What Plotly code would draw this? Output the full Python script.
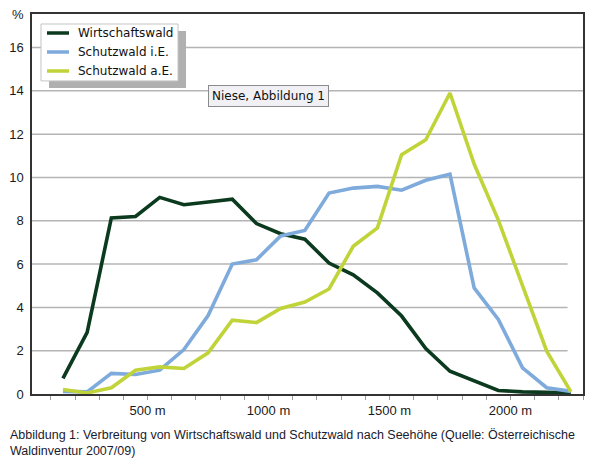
import plotly.graph_objects as go

# ---- data ----
altitude_m = [150, 250, 350, 450, 550, 650, 750, 850, 950, 1050, 1150,
              1250, 1350, 1450, 1550, 1650, 1750, 1850, 1950, 2050, 2150, 2250]
wirtschaftswald = [0.72, 2.85, 8.13, 8.2, 9.08, 8.74, 8.87, 9.0, 7.87, 7.4, 7.15,
                   6.05, 5.5, 4.67, 3.6, 2.1, 1.05, 0.59, 0.16, 0.1, 0.08, 0.05]
schutzwald_ie = [0.12, 0.1, 0.95, 0.9, 1.1, 2.05, 3.62, 6.0, 6.2, 7.3, 7.55,
                 9.28, 9.51, 9.59, 9.41, 9.87, 10.15, 4.9, 3.44, 1.21, 0.29, 0.12]
schutzwald_ae = [0.21, 0.05, 0.29, 1.1, 1.25, 1.18, 1.9, 3.41, 3.3, 3.95, 4.25,
                 4.85, 6.82, 7.67, 11.05, 11.74, 13.9, 10.62, 8.03, 5.0, 1.98, 0.1]
series_names = ["Wirtschaftswald", "Schutzwald i.E.", "Schutzwald a.E."]
series_colors = ["#0b3a1e", "#7eaadc", "#c0d43a"]

x_ticks = list(range(100, 2301, 100))
x_labels = {500: "500 m", 1000: "1000 m", 1500: "1500 m", 2000: "2000 m"}
y_ticks = [0, 2, 4, 6, 8, 10, 12, 14, 16]
y_top = 17.55
caption = ("Abbildung 1: Verbreitung von Wirtschaftswald und Schutzwald nach Seehöhe "
           "(Quelle: Österreichische<br>Waldinventur 2007/09)")

fig = go.Figure()
for name, vals, col in zip(series_names,
                           [wirtschaftswald, schutzwald_ie, schutzwald_ae],
                           series_colors):
    fig.add_trace(go.Scatter(x=altitude_m, y=vals, name=name, mode="lines",
                             line=dict(color=col, width=3.6), showlegend=False))

shapes = []
annotations = []
# gridlines (the lower ones stop short of the right frame, as in the original)
for v in y_ticks[1:]:
    shapes.append(dict(type="line", xref="paper", yref="y", x0=0,
                       x1=1 if v >= 8 else 0.972, y0=v, y1=v,
                       line=dict(color="#b4b4b4", width=1.5), layer="below"))

# legend box with drop shadow (drawn as a small framed key)
shapes.append(dict(type="rect", xref="paper", yref="paper", x0=0.0309, x1=0.2795,
                   y0=0.8055, y1=0.9553, fillcolor="#b0b0b0", line=dict(width=0),
                   layer="above"))
shapes.append(dict(type="rect", xref="paper", yref="paper", x0=0.0163, x1=0.265,
                   y0=0.8239, y1=0.9737, fillcolor="white",
                   line=dict(color="#c4c4c4", width=1), layer="above"))
key_rows = [0.950, 0.900, 0.850]
for name, col, ky in zip(series_names, series_colors, key_rows):
    shapes.append(dict(type="line", xref="paper", yref="paper", x0=0.0272,
                       x1=0.0672, y0=ky, y1=ky, line=dict(color=col, width=3.5),
                       layer="above"))
    annotations.append(dict(x=0.0799, y=ky, xref="paper", yref="paper",
                            xanchor="left", yanchor="middle", text=name,
                            showarrow=False,
                            font=dict(family="DejaVu Sans", size=12,
                                      color="#111111")))

annotations += [
    dict(x=1000, y=13.77, xref="x", yref="y", text="Niese, Abbildung 1",
         showarrow=False, bgcolor="#f1f1f5", bordercolor="#8a8a8a",
         borderwidth=1, borderpad=3,
         font=dict(family="DejaVu Sans", size=12, color="#111111")),
    dict(x=-0.0436, y=-0.083, xref="paper", yref="paper", xanchor="left",
         yanchor="top", align="left", text=caption, showarrow=False,
         font=dict(family="Liberation Sans, Arial, sans-serif", size=12.5,
                   color="#1a1a2e")),
]

fig.update_layout(
    width=596, height=462,
    margin=dict(l=32, r=13, t=14, b=68),
    paper_bgcolor="white", plot_bgcolor="white",
    font=dict(family="Liberation Sans, Arial, sans-serif", size=13, color="#1a1a1a"),
    showlegend=False,
    shapes=shapes,
    annotations=annotations,
    xaxis=dict(range=[22, 2300], tickvals=x_ticks, automargin=False,
               ticktext=[x_labels.get(t, "") for t in x_ticks],
               ticks="outside", ticklen=4, tickcolor="#9a9a9a", tickwidth=1,
               showgrid=False, zeroline=False, showline=True, mirror=True,
               linecolor="#333333", linewidth=1.5),
    yaxis=dict(range=[0, y_top], tickvals=y_ticks + [y_top], automargin=False,
               ticktext=[str(v) for v in y_ticks] + ["%"],
               ticks="", showgrid=False, zeroline=False, showline=True, mirror=True,
               linecolor="#333333", linewidth=1.5, ticklabelstandoff=4),
)
fig.write_html("out.html", config={"displayModeBar": False},
               post_script="document.body.style.margin='0';")
